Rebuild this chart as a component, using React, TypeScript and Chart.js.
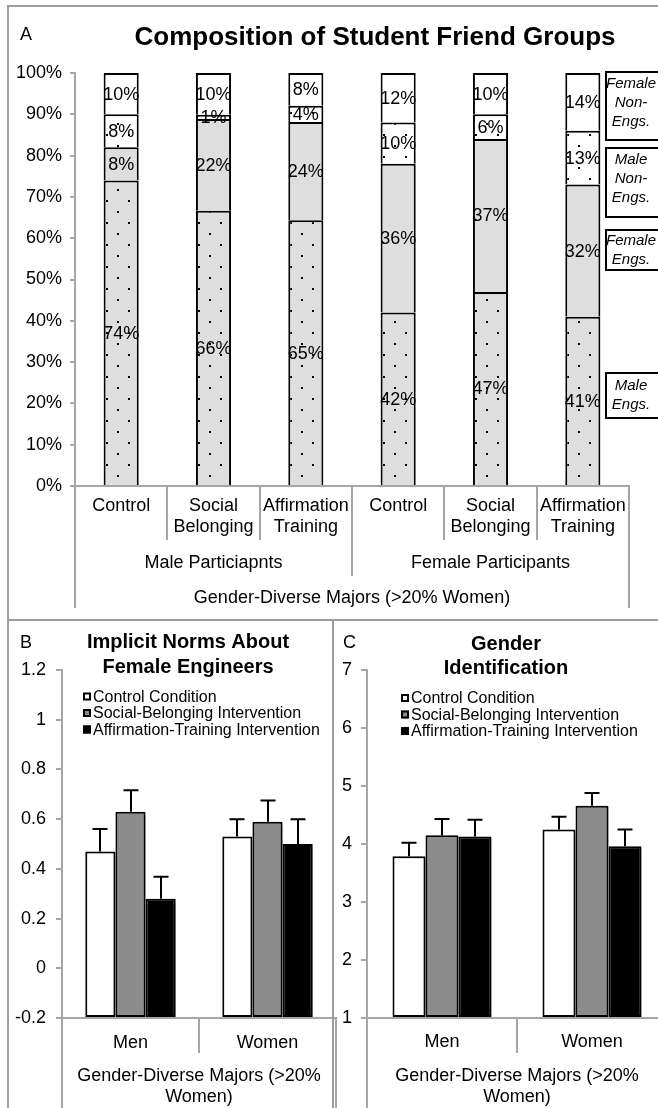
import React, { useEffect, useRef } from 'react';
import { Chart, registerables } from 'chart.js';

Chart.register(...registerables);

const FONT = '"Liberation Sans", Arial, Helvetica, sans-serif';
const AXIS_GRAY = '#a6a6a6';

// ---------- Panel A data ----------
const titleA = 'Composition of Student Friend Groups';
const categoriesA = [
  ['Control'],
  ['Social', 'Belonging'],
  ['Affirmation', 'Training'],
  ['Control'],
  ['Social', 'Belonging'],
  ['Affirmation', 'Training'],
];
const groupsA = ['Male Particiapnts', 'Female Participants'];
const majorLabelA = 'Gender-Diverse Majors (>20% Women)';
const maleEngs = [74, 66, 65, 42, 47, 41];
const femaleEngs = [8, 22, 24, 36, 37, 32];
const maleNonEngs = [8, 1, 4, 10, 6, 13];
const femaleNonEngs = [10, 10, 8, 12, 10, 14];
const seriesNamesA = [
  ['Male', 'Engs.'],
  ['Female', 'Engs.'],
  ['Male', 'Non-', 'Engs.'],
  ['Female', 'Non-', 'Engs.'],
];
const yTicksA = [0, 10, 20, 30, 40, 50, 60, 70, 80, 90, 100];

// ---------- Panel B data ----------
const titleB = ['Implicit Norms About', 'Female Engineers'];
const categoriesBC = ['Men', 'Women'];
const majorLabelBC = ['Gender-Diverse Majors (>20%', 'Women)'];
const conditionNames = [
  'Control Condition',
  'Social-Belonging Intervention',
  'Affirmation-Training Intervention',
];
const normsControl = [0.47, 0.53];
const normsSocial = [0.63, 0.59];
const normsAffirm = [0.28, 0.5];
const normsControlErr = [0.09, 0.07];
const normsSocialErr = [0.086, 0.085];
const normsAffirmErr = [0.088, 0.1];
const yTicksB = [-0.2, 0, 0.2, 0.4, 0.6, 0.8, 1, 1.2];

// ---------- Panel C data ----------
const titleC = ['Gender', 'Identification'];
const identControl = [3.79, 4.25];
const identSocial = [4.15, 4.66];
const identAffirm = [4.13, 3.96];
const identControlErr = [0.23, 0.22];
const identSocialErr = [0.28, 0.22];
const identAffirmErr = [0.29, 0.29];
const yTicksC = [1, 2, 3, 4, 5, 6, 7];

const conditionColors = ['#ffffff', '#8c8c8c', '#000000'];

// ---------- Panel A chart ----------
const BAR_PCT_A = 0.38;
const ENG_GRAY = '#dedede';

function makeDotPattern(ctx: CanvasRenderingContext2D, bg: string, offsetX: number) {
  const c = document.createElement('canvas');
  c.width = 22;
  c.height = 22;
  const g = c.getContext('2d') as CanvasRenderingContext2D;
  g.fillStyle = bg;
  g.fillRect(0, 0, 22, 22);
  g.fillStyle = '#000';
  g.fillRect(2, 2, 2, 2);
  g.fillRect(13, 13, 2, 2);
  const p = ctx.createPattern(c, 'repeat') as CanvasPattern;
  p.setTransform(new DOMMatrix().translate(offsetX, 0));
  return p;
}

const legendBoxesA = [
  { series: 3, top: 72, bottom: 140, firstLine: 84 },
  { series: 2, top: 148, bottom: 217, firstLine: 160 },
  { series: 1, top: 230, bottom: 270, firstLine: 241 },
  { series: 0, top: 373, bottom: 418, firstLine: 386 },
];

function createChartA(canvas: HTMLCanvasElement) {
  const totals = maleEngs.map((_, i) => maleEngs[i] + femaleEngs[i] + maleNonEngs[i] + femaleNonEngs[i]);
  const pct = (arr: number[]) => arr.map((v, i) => (v / totals[i]) * 100);
  const rawSeries = [maleEngs, femaleEngs, maleNonEngs, femaleNonEngs];
  const cache = new Map<string, CanvasPattern>();

  const dotted = (bg: string) => (c: any) => {
    const chart = c.chart;
    const xs = chart.scales && chart.scales.x;
    if (!xs || c.dataIndex == null) return bg;
    const cw = (xs.right - xs.left) / categoriesA.length;
    const left = Math.round(xs.getPixelForValue(c.dataIndex) - (cw * BAR_PCT_A) / 2);
    const key = bg + ':' + left;
    if (!cache.has(key)) cache.set(key, makeDotPattern(chart.ctx, bg, left));
    return cache.get(key);
  };

  const fills = [dotted(ENG_GRAY), ENG_GRAY, dotted('#ffffff'), '#ffffff'];

  const plugin = {
    id: 'annotationsA',
    afterDraw(chart: any) {
      const ctx = chart.ctx as CanvasRenderingContext2D;
      const xs = chart.scales.x;
      const area = chart.chartArea;
      const n = categoriesA.length;
      const cw = (xs.right - xs.left) / n;
      ctx.save();
      ctx.fillStyle = '#000';
      ctx.textAlign = 'center';
      ctx.textBaseline = 'middle';

      // segment labels
      ctx.font = `18px ${FONT}`;
      rawSeries.forEach((arr, di) => {
        const meta = chart.getDatasetMeta(di);
        meta.data.forEach((el: any, i: number) => {
          const p = el.getProps(['x', 'y', 'base'], true);
          ctx.fillText(`${arr[i]}%`, p.x, (p.y + p.base) / 2 + 1);
        });
      });

      // title + panel letter
      ctx.font = `bold 26px ${FONT}`;
      ctx.fillText(titleA, 375, 38);
      ctx.font = `18px ${FONT}`;
      ctx.textAlign = 'left';
      ctx.fillText('A', 20, 35);

      // multi-level category separators
      ctx.strokeStyle = AXIS_GRAY;
      ctx.lineWidth = 2;
      for (let i = 0; i <= n; i++) {
        const x = Math.round(xs.left + i * cw);
        const len = i === 0 || i === n ? 122 : i === n / 2 ? 90 : 54;
        ctx.beginPath();
        ctx.moveTo(x, area.bottom);
        ctx.lineTo(x, area.bottom + len);
        ctx.stroke();
      }
      ctx.textAlign = 'center';
      ctx.font = `18px ${FONT}`;
      groupsA.forEach((g, gi) => {
        const cx = xs.left + (gi * 3 + 1.5) * cw;
        ctx.fillText(g, cx, 563);
      });
      ctx.fillText(majorLabelA, (xs.left + xs.right) / 2, 598);

      // series name boxes
      ctx.font = `italic 15px ${FONT}`;
      legendBoxesA.forEach((b) => {
        ctx.fillStyle = '#fff';
        ctx.fillRect(606, b.top, 80, b.bottom - b.top);
        ctx.strokeStyle = '#000';
        ctx.lineWidth = 2;
        ctx.strokeRect(606, b.top, 80, b.bottom - b.top);
        ctx.fillStyle = '#000';
        seriesNamesA[b.series].forEach((line, li) => {
          ctx.fillText(line, 631, b.firstLine + li * 19);
        });
      });
      ctx.restore();
    },
  };

  return new Chart(canvas, {
    type: 'bar',
    data: {
      labels: categoriesA as any,
      datasets: rawSeries.map((arr, di) => ({
        label: seriesNamesA[di].join(' '),
        data: pct(arr),
        backgroundColor: fills[di] as any,
        borderColor: '#000',
        borderWidth: { top: 2, left: 2, right: 2, bottom: 0 } as any,
        borderSkipped: false as any,
        categoryPercentage: 1,
        barPercentage: BAR_PCT_A,
      })),
    },
    options: {
      responsive: false,
      animation: false,
      events: [],
      layout: { padding: { top: 73, left: 0, right: 29, bottom: 0 } },
      plugins: { legend: { display: false }, tooltip: { enabled: false } },
      scales: {
        x: {
          stacked: true,
          grid: { display: false, drawTicks: false },
          border: { display: true, color: AXIS_GRAY, width: 2 },
          ticks: { color: '#000', font: { family: FONT, size: 18 }, padding: 9, maxRotation: 0, autoSkip: false },
          afterFit: (s: any) => {
            s.height = 134;
          },
        },
        y: {
          stacked: true,
          min: 0,
          max: 100,
          afterBuildTicks: (s: any) => {
            s.ticks = yTicksA.map((v) => ({ value: v }));
          },
          grid: { drawOnChartArea: false, drawTicks: true, tickLength: 5, color: AXIS_GRAY, lineWidth: 2 },
          border: { display: true, color: AXIS_GRAY, width: 2 },
          ticks: { color: '#000', font: { family: FONT, size: 18 }, padding: 8, callback: (v: any) => `${v}%` },
          afterFit: (s: any) => {
            s.width = 75;
          },
        },
      },
    } as any,
    plugins: [plugin],
  });
}

// ---------- Panels B / C ----------
interface BarPanelCfg {
  letter: string;
  letterX: number;
  title: string[];
  titleX: number;
  titleY: number[];
  series: number[][];
  errors: number[][];
  yTicks: number[];
  yWidth: number;
  padRight: number;
  yTickPad: number;
  xTickPad: number;
  legendX: number;
  legendY: number[];
}

function createBarPanel(canvas: HTMLCanvasElement, cfg: BarPanelCfg) {
  const min = cfg.yTicks[0];
  const max = cfg.yTicks[cfg.yTicks.length - 1];
  const plugin = {
    id: 'annotationsBC',
    beforeDatasetsDraw(chart: any) {
      const ctx = chart.ctx as CanvasRenderingContext2D;
      ctx.save();
      ctx.shadowColor = 'rgba(0,0,0,0.35)';
      ctx.shadowOffsetX = 2;
      ctx.shadowOffsetY = 2;
      ctx.shadowBlur = 3;
    },
    afterDatasetsDraw(chart: any) {
      const ctx = chart.ctx as CanvasRenderingContext2D;
      ctx.restore();
      const ys = chart.scales.y;
      ctx.save();
      ctx.strokeStyle = '#000';
      ctx.lineWidth = 2;
      cfg.series.forEach((arr, di) => {
        const meta = chart.getDatasetMeta(di);
        meta.data.forEach((el: any, i: number) => {
          const p = el.getProps(['x', 'y'], true);
          const yErr = ys.getPixelForValue(arr[i] + cfg.errors[di][i]);
          const x = Math.round(p.x);
          ctx.beginPath();
          ctx.moveTo(x, p.y);
          ctx.lineTo(x, yErr);
          ctx.moveTo(x - 7.5, yErr);
          ctx.lineTo(x + 7.5, yErr);
          ctx.stroke();
        });
      });
      ctx.restore();
    },
    afterDraw(chart: any) {
      const ctx = chart.ctx as CanvasRenderingContext2D;
      const xs = chart.scales.x;
      const area = chart.chartArea;
      const n = categoriesBC.length;
      const cw = (xs.right - xs.left) / n;
      ctx.save();
      ctx.fillStyle = '#000';
      ctx.textBaseline = 'middle';
      // letter + title
      ctx.textAlign = 'left';
      ctx.font = `18px ${FONT}`;
      ctx.fillText(cfg.letter, cfg.letterX, 23);
      ctx.textAlign = 'center';
      ctx.font = `bold 20px ${FONT}`;
      cfg.title.forEach((t, k) => ctx.fillText(t, cfg.titleX, cfg.titleY[k]));
      // legend
      ctx.font = `16px ${FONT}`;
      ctx.textAlign = 'left';
      conditionNames.forEach((name, k) => {
        const y = cfg.legendY[k];
        ctx.fillStyle = conditionColors[k];
        ctx.fillRect(cfg.legendX, y - 5, 8, 8);
        ctx.strokeStyle = '#000';
        ctx.lineWidth = 2;
        ctx.strokeRect(cfg.legendX + 1, y - 4, 6, 6);
        ctx.fillStyle = '#000';
        ctx.fillText(name, cfg.legendX + 10, y);
      });
      // separators
      ctx.strokeStyle = AXIS_GRAY;
      ctx.lineWidth = 2;
      for (let i = 0; i <= n; i++) {
        const x = Math.round(xs.left + i * cw);
        const len = i === 0 || i === n ? 100 : 35;
        ctx.beginPath();
        ctx.moveTo(x, area.bottom);
        ctx.lineTo(x, area.bottom + len);
        ctx.stroke();
      }
      ctx.font = `18px ${FONT}`;
      ctx.textAlign = 'center';
      const cx = (xs.left + xs.right) / 2;
      majorLabelBC.forEach((t, k) => ctx.fillText(t, cx, area.bottom + 58 + k * 21));
      ctx.restore();
    },
  };

  return new Chart(canvas, {
    type: 'bar',
    data: {
      labels: categoriesBC,
      datasets: cfg.series.map((data, k) => ({
        label: conditionNames[k],
        data,
        base: min,
        backgroundColor: conditionColors[k],
        borderColor: '#000',
        borderWidth: 2,
        borderSkipped: false as any,
        categoryPercentage: 0.66,
        barPercentage: 1,
      })),
    },
    options: {
      responsive: false,
      animation: false,
      events: [],
      layout: { padding: { top: 50, left: 0, right: cfg.padRight, bottom: 0 } },
      plugins: { legend: { display: false }, tooltip: { enabled: false } },
      scales: {
        x: {
          grid: { display: false, drawTicks: false },
          border: { display: true, color: AXIS_GRAY, width: 2 },
          ticks: { color: '#000', font: { family: FONT, size: 18 }, padding: cfg.xTickPad, maxRotation: 0, autoSkip: false },
          afterFit: (s: any) => {
            s.height = 90;
          },
        },
        y: {
          min,
          max,
          afterBuildTicks: (s: any) => {
            s.ticks = cfg.yTicks.map((v) => ({ value: v }));
          },
          grid: { drawOnChartArea: false, drawTicks: true, tickLength: 6, color: AXIS_GRAY, lineWidth: 2 },
          border: { display: true, color: AXIS_GRAY, width: 2 },
          ticks: {
            color: '#000',
            font: { family: FONT, size: 18 },
            padding: cfg.yTickPad,
            callback: (v: any) => String(Math.round(Number(v) * 10) / 10),
          },
          afterFit: (s: any) => {
            s.width = cfg.yWidth;
          },
        },
      },
    } as any,
    plugins: [plugin],
  });
}

export default function App() {
  const refA = useRef<HTMLCanvasElement>(null);
  const refB = useRef<HTMLCanvasElement>(null);
  const refC = useRef<HTMLCanvasElement>(null);

  useEffect(() => {
    const charts: Chart[] = [];
    if (refA.current) charts.push(createChartA(refA.current));
    if (refB.current)
      charts.push(
        createBarPanel(refB.current, {
          letter: 'B',
          letterX: 20,
          title: titleB,
          titleX: 188,
          titleY: [22, 47],
          series: [normsControl, normsSocial, normsAffirm],
          errors: [normsControlErr, normsSocialErr, normsAffirmErr],
          yTicks: yTicksB,
          yWidth: 62,
          padRight: 4,
          yTickPad: 10,
          xTickPad: 14,
          legendX: 83,
          legendY: [77.5, 94, 110.5],
        })
      );
    if (refC.current)
      charts.push(
        createBarPanel(refC.current, {
          letter: 'C',
          letterX: 10,
          title: titleC,
          titleX: 173,
          titleY: [24, 48],
          series: [identControl, identSocial, identAffirm],
          errors: [identControlErr, identSocialErr, identAffirmErr],
          yTicks: yTicksC,
          yWidth: 34,
          padRight: 6,
          yTickPad: 9,
          xTickPad: 13,
          legendX: 68,
          legendY: [79, 95.5, 112],
        })
      );
    return () => charts.forEach((c) => c.destroy());
  }, []);

  const line = (left: number, top: number, width: number, height: number): React.CSSProperties => ({
    position: 'absolute',
    left,
    top,
    width,
    height,
    background: '#9c9c9c',
  });

  return (
    <div
      style={{
        position: 'absolute',
        left: 0,
        top: 0,
        width: 658,
        height: 1108,
        overflow: 'hidden',
        background: '#fff',
      }}
    >
      <canvas ref={refA} width={658} height={620} style={{ position: 'absolute', left: 0, top: 0 }} />
      <canvas ref={refB} width={340} height={488} style={{ position: 'absolute', left: 0, top: 620 }} />
      <canvas ref={refC} width={340} height={488} style={{ position: 'absolute', left: 333, top: 620 }} />
      <div style={line(7, 5, 651, 2)} />
      <div style={line(7, 5, 2, 1103)} />
      <div style={line(7, 619, 651, 2)} />
      <div style={line(332, 619, 2, 489)} />
    </div>
  );
}
